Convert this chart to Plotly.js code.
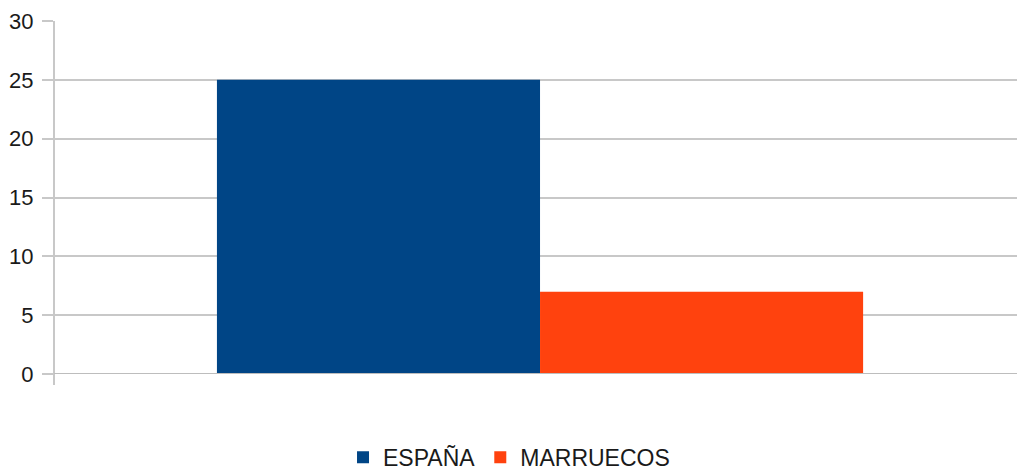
<!DOCTYPE html>
<html>
<head>
<meta charset="utf-8">
<script src="https://cdn.plot.ly/plotly-3.0.1.min.js"></script>
<style>
  html, body { margin: 0; padding: 0; background: #fff; }
  #chart { width: 1017px; height: 470px; }
</style>
</head>
<body>
<div id="chart"></div>
<script>
const categories = [''];
const seriesNames = ['ESPAÑA', 'MARRUECOS'];
const espanaValues = [25];
const marruecosValues = [7];
const seriesColors = ['#004586', '#ff420e'];
const yTicks = [0, 5, 10, 15, 20, 25, 30];

const gridGrey = '#c8c8c8';

let data = [
    {
        x: categories,
        y: espanaValues,
        type: 'bar',
        name: seriesNames[0],
        marker: { color: seriesColors[0] },
        hoverinfo: 'none'
    },
    {
        x: categories,
        y: marruecosValues,
        type: 'bar',
        name: seriesNames[1],
        marker: { color: seriesColors[1] },
        hoverinfo: 'none'
    }
];

let layout = {
    width: 1017,
    height: 470,
    margin: { l: 54, r: 0, t: 21, b: 96, autoexpand: false },
    paper_bgcolor: '#ffffff',
    plot_bgcolor: '#ffffff',
    font: { family: 'Liberation Sans, Arial, sans-serif', color: '#1a1a1a', size: 22 },
    barmode: 'group',
    bargap: 0.329,
    bargroupgap: 0,
    showlegend: true,
    legend: {
        orientation: 'h',
        x: 0.4725,
        xanchor: 'center',
        y: -0.175,
        yanchor: 'top',
        font: { size: 23, color: '#1a1a1a' },
        itemwidth: 30
    },
    xaxis: {
        type: 'category',
        range: [-0.5047, 0.4953],
        showgrid: false,
        zeroline: false,
        showline: false,
        showticklabels: false,
        ticks: ''
    },
    yaxis: {
        range: [0, 30],
        tickvals: yTicks,
        ticktext: yTicks.map(String),
        showgrid: true,
        gridcolor: gridGrey,
        gridwidth: 2,
        zeroline: false,
        showline: false,
        ticks: 'outside',
        ticklen: 11,
        tickwidth: 2,
        tickcolor: gridGrey,
        ticklabelstandoff: 4,
        tickfont: { size: 22, color: '#1a1a1a' }
    },
    shapes: [
        {
            type: 'line', xref: 'paper', yref: 'paper',
            x0: 0, x1: 0, y0: -0.031, y1: 1,
            line: { color: gridGrey, width: 2 }
        },
        {
            type: 'line', xref: 'paper', yref: 'y',
            x0: 0, x1: 1, y0: 0, y1: 0,
            line: { color: '#bdbdbd', width: 2 }
        }
    ]
};

Plotly.newPlot('chart', data, layout, { displayModeBar: false, staticPlot: true });
</script>
</body>
</html>
